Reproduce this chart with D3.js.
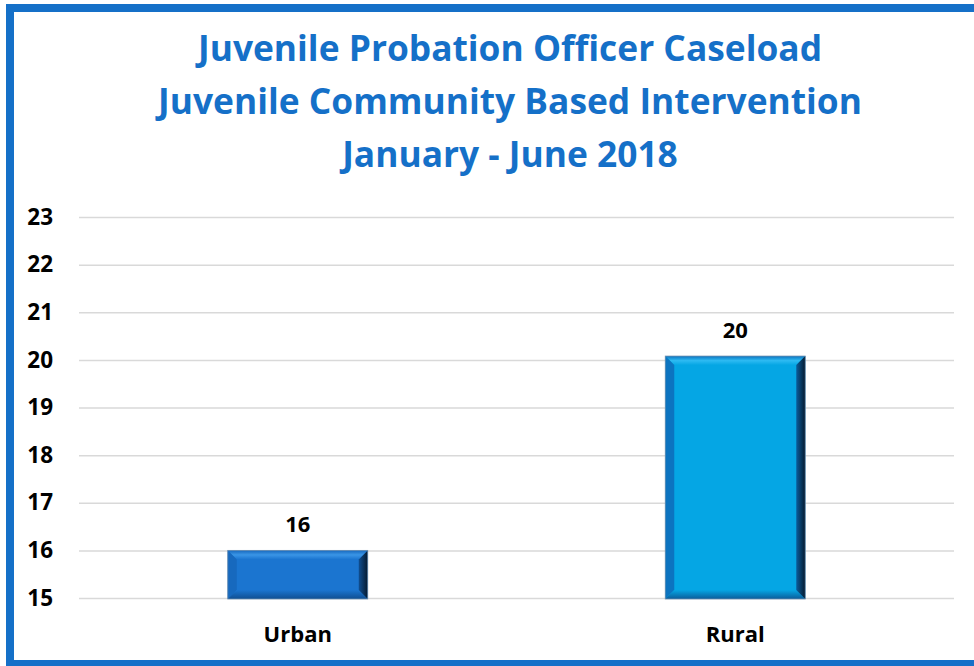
<!DOCTYPE html>
<html>
  <head>
    <meta charset="utf-8">
    <script src="https://d3js.org/d3.v7.min.js"></script>
    <style>
      body { margin: 0px; background: #fff; }
      text { font-family: "Open Sans", Lato, sans-serif; font-weight: bold; }
    </style>
  </head>
  <body>
    <svg width="974" height="666"></svg>
    <script>
      const titleLines = ['Juvenile Probation Officer Caseload',
                          'Juvenile Community Based Intervention',
                          'January - June 2018'];
      const categories = ['Urban', 'Rural'];
      const values = [16, 20.08];
      const yTicks = [15, 16, 17, 18, 19, 20, 21, 22, 23];

      // face colours per bar: center, top, left, right (inner/outer), bottom
      const palettes = [
        { c: '#1B75D0', t: '#3A95E6', l: '#1769BE', r0: '#0F4E91', r1: '#05192E', b: '#145FAE' },
        { c: '#05A6E4', t: '#2DBAF2', l: '#0C74C0', r0: '#0A5C9A', r1: '#051A30', b: '#0A80C8' }
      ];

      const svg = d3.select('svg');

      // frame
      svg.append('rect')
        .attr('x', 10).attr('y', 8)
        .attr('width', 1000).attr('height', 656)
        .attr('fill', 'none')
        .attr('stroke', '#1570C8')
        .attr('stroke-width', 8);

      // title, sized so the widest line spans ~704px like the original
      const title = svg.append('g').selectAll('text').data(titleLines)
        .enter().append('text')
          .attr('x', 510)
          .attr('y', (d, i) => 61 + i * 53)
          .attr('text-anchor', 'middle')
          .attr('font-size', 30)
          .attr('fill', '#1570C8')
          .text(d => d);
      const w2 = title.nodes()[1].getComputedTextLength();
      title.attr('font-size', 30 * 704 / w2);

      const x = d3.scaleBand().domain(categories).range([79, 954]).padding(0);
      const y = d3.scaleLinear().domain([15, 23]).range([598, 217]);

      // gridlines
      const yAxis = d3.axisLeft(y).tickValues(yTicks).tickSize(-(954 - 79)).tickFormat(d3.format('d'));
      const yAxisG = svg.append('g').attr('transform', 'translate(79,0)').call(yAxis);
      yAxisG.select('.domain').remove();
      yAxisG.selectAll('.tick line').attr('stroke', '#d9d9d9').attr('stroke-width', 1.5);
      yAxisG.selectAll('.tick text')
        .attr('x', -26)
        .attr('font-size', 22.5)
        .attr('fill', '#000')
        .attr('font-family', '"Open Sans", sans-serif');

      // category labels
      svg.append('g').selectAll('text').data(categories)
        .enter().append('text')
          .attr('x', d => x(d) + x.bandwidth() / 2)
          .attr('y', 642)
          .attr('text-anchor', 'middle')
          .attr('font-size', 22)
          .attr('fill', '#000')
          .text(d => d);

      const defs = svg.append('defs');
      palettes.forEach((p, i) => {
        const g = defs.append('linearGradient').attr('id', 'rg' + i)
          .attr('x1', 0).attr('x2', 1).attr('y1', 0).attr('y2', 0);
        g.append('stop').attr('offset', '0%').attr('stop-color', p.r0);
        g.append('stop').attr('offset', '100%').attr('stop-color', p.r1);
        const gb = defs.append('linearGradient').attr('id', 'bg' + i)
          .attr('x1', 0).attr('x2', 0).attr('y1', 0).attr('y2', 1);
        gb.append('stop').attr('offset', '0%').attr('stop-color', p.c);
        gb.append('stop').attr('offset', '100%').attr('stop-color', p.r0);
        const gt = defs.append('linearGradient').attr('id', 'tg' + i)
          .attr('x1', 0).attr('x2', 0).attr('y1', 0).attr('y2', 1);
        gt.append('stop').attr('offset', '0%').attr('stop-color', p.l);
        gt.append('stop').attr('offset', '50%').attr('stop-color', p.t);
        gt.append('stop').attr('offset', '100%').attr('stop-color', p.c);
      });

      // bevelled bars
      const barW = 140, bev = 9;
      const bars = svg.append('g').selectAll('g').data(categories)
        .enter().append('g');
      bars.each(function(d, i) {
        const p = palettes[i];
        const x0 = x(d) + x.bandwidth() / 2 - barW / 2, x1 = x0 + barW;
        const y0 = y(values[i]), y1 = y(15) + 1;
        const b = Math.min(bev, (y1 - y0) / 2);
        const g = d3.select(this);
        const poly = pts => pts.map(q => q.join(',')).join(' ');
        g.append('rect').attr('x', x0).attr('y', y0).attr('width', barW).attr('height', y1 - y0).attr('fill', p.c);
        g.append('polygon').attr('points', poly([[x0, y0], [x1, y0], [x1 - b, y0 + b], [x0 + b, y0 + b]])).attr('fill', 'url(#tg' + i + ')');
        g.append('polygon').attr('points', poly([[x0, y0], [x0 + b, y0 + b], [x0 + b, y1 - b], [x0, y1]])).attr('fill', p.l);
        g.append('polygon').attr('points', poly([[x0, y1], [x1, y1], [x1 - b, y1 - b], [x0 + b, y1 - b]])).attr('fill', 'url(#bg' + i + ')');
        g.append('polygon').attr('points', poly([[x1, y0], [x1, y1], [x1 - b, y1 - b], [x1 - b, y0 + b]])).attr('fill', 'url(#rg' + i + ')');
        g.append('rect').attr('x', x0).attr('y', y0).attr('width', barW).attr('height', y1 - y0)
          .attr('fill', 'none').attr('stroke', '#6d8fb0').attr('stroke-width', 0.8);
      });

      // value labels
      svg.append('g').selectAll('text').data(categories)
        .enter().append('text')
          .attr('x', d => x(d) + x.bandwidth() / 2)
          .attr('y', (d, i) => y(values[i]) - 18)
          .attr('text-anchor', 'middle')
          .attr('font-size', 22)
          .attr('fill', '#000')
          .text((d, i) => d3.format('.0f')(values[i]));
    </script>
  </body>
</html>
